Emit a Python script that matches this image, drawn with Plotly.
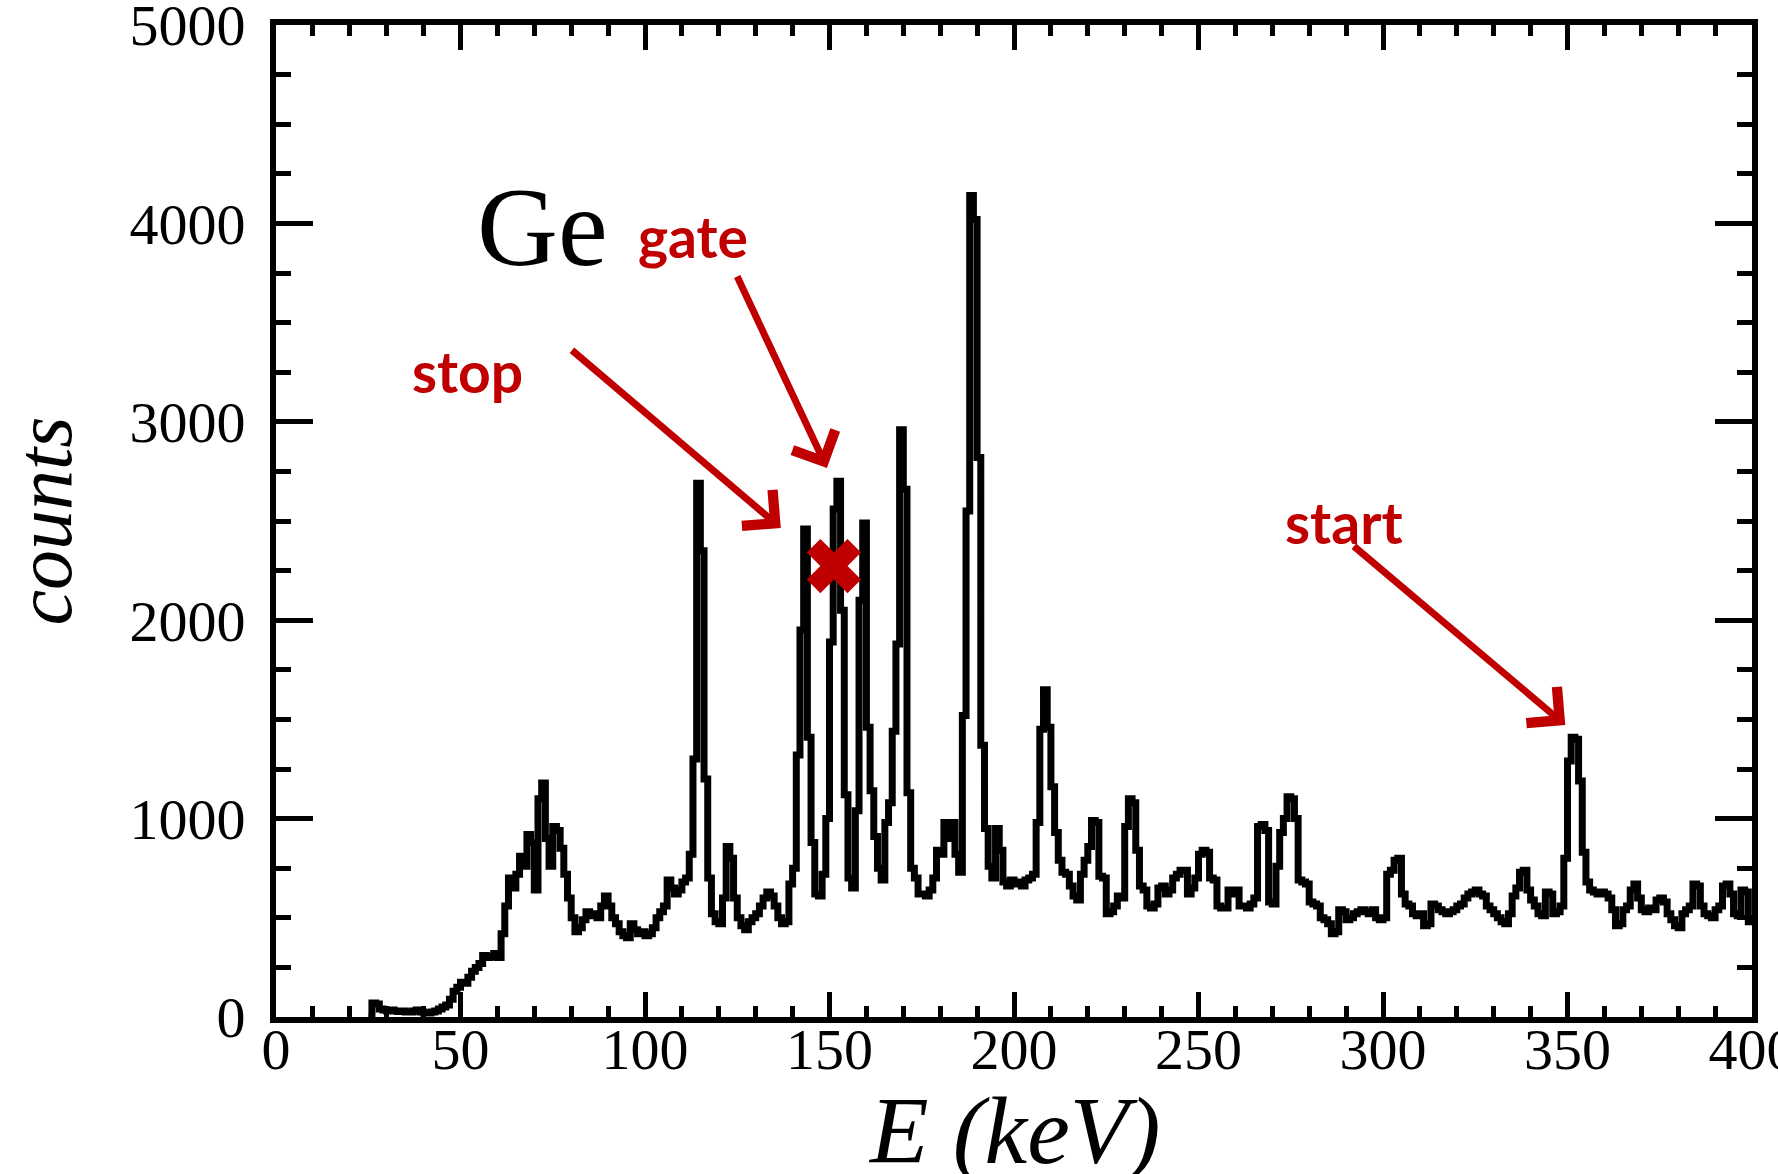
import plotly.graph_objects as go

# ---- data (bin left edges in keV, counts per 1 keV bin) ----
energy_keV = list(range(25, 401))
counts = [
    0, 70, 65, 40, 35, 30, 35, 30, 28, 30,            # 25-34
    25, 25, 30, 35, 25, 20, 20, 25, 30, 40,           # 35-44
    50, 60, 90, 130, 150, 175, 170, 200, 230, 250,    # 45-54
    270, 310, 300, 305, 320, 300, 420, 560, 700, 650, # 55-64
    720, 810, 760, 920, 880, 640, 1100, 1180, 900, 760,  # 65-74
    960, 940, 850, 720, 600, 500, 430, 450, 490, 530, # 75-84
    510, 520, 500, 560, 610, 560, 500, 470, 430, 410, # 85-94
    400, 470, 440, 420, 430, 410, 420, 450, 500, 530, # 95-104
    560, 690, 650, 620, 640, 680, 700, 820, 1300, 2690,  # 105-114
    2350, 1200, 700, 520, 480, 470, 600, 860, 800, 600,  # 115-124
    500, 460, 440, 480, 500, 520, 560, 600, 630, 610, # 125-134
    560, 500, 470, 480, 670, 750, 1320, 1950, 2460, 1410,  # 135-144
    880, 620, 610, 720, 1000, 1890, 2560, 2700, 2050, 1120,  # 145-154
    700, 650, 1040, 2100, 2490, 1460, 1140, 910, 750, 690,  # 155-164
    980, 1080, 1440, 1880, 2960, 2660, 1130, 750, 700, 620,  # 165-174
    620, 610, 640, 700, 840, 820, 980, 900, 980, 820, # 175-184
    730, 1520, 2550, 4140, 4020, 2820, 1370, 950, 760, 700,  # 185-194
    950, 840, 680, 660, 690, 670, 680, 660, 690, 700, # 195-204
    720, 980, 1450, 1650, 1460, 1160, 930, 790, 730, 720,  # 205-214
    660, 610, 590, 720, 790, 860, 990, 980, 710, 700, # 215-224
    520, 530, 560, 610, 600, 960, 1100, 1080, 840, 660,  # 225-234
    640, 560, 550, 570, 650, 660, 620, 640, 700, 720, # 235-244
    740, 740, 620, 650, 700, 820, 840, 830, 700, 690, # 245-254
    560, 550, 550, 640, 620, 640, 560, 560, 550, 570, # 255-264
    600, 960, 970, 940, 580, 570, 760, 930, 1000, 1110,  # 265-274
    1100, 1000, 690, 680, 670, 580, 570, 560, 500, 490,  # 275-284
    470, 420, 430, 540, 530, 490, 500, 520, 530, 540, # 285-294
    530, 520, 540, 500, 490, 500, 720, 740, 790, 800, # 295-304
    620, 570, 560, 520, 510, 520, 460, 470, 570, 560, # 305-314
    540, 530, 520, 530, 540, 560, 570, 600, 620, 630, # 315-324
    640, 620, 610, 560, 540, 520, 500, 480, 470, 520, # 325-334
    610, 650, 730, 740, 640, 590, 560, 520, 510, 630, # 335-344
    620, 520, 530, 560, 800, 1290, 1410, 1400, 1190, 830,  # 345-354
    680, 640, 630, 620, 630, 620, 600, 540, 460, 470, # 355-364
    540, 560, 640, 670, 600, 540, 530, 550, 540, 590, # 365-374
    600, 580, 520, 490, 460, 450, 520, 540, 560, 670, # 375-384
    660, 560, 520, 510, 500, 540, 560, 660, 670, 620, # 385-394
    520, 510, 640, 630, 480, 480,                     # 395-400
]
assert len(counts) == len(energy_keV)

x_ticks = [0, 50, 100, 150, 200, 250, 300, 350, 400]
y_ticks = [0, 1000, 2000, 3000, 4000, 5000]
x_title = "E (keV)"
y_title = "counts"

gate_marker = (151.2, 2273)
# (label, text_x, text_y, tail_x, tail_y, head_x, head_y)
arrows = [
    ("stop", 51.9, 3256, 79.8, 3367, 136.8, 2465),
    ("gate", 112.9, 3937, 124.8, 3740, 149.3, 2767),
    ("start", 289.3, 2495, 291.7, 2379, 349.4, 1472),
]
ge_label = ("Ge", 72.2, 3982)

RED = "#C00000"
SERIF = "Liberation Serif"

fig = go.Figure()
fig.add_trace(go.Scatter(
    x=energy_keV, y=counts, mode="lines",
    line=dict(color="black", width=7, shape="hv"),
    showlegend=False, hoverinfo="skip"))
fig.add_trace(go.Scatter(
    x=[gate_marker[0]], y=[gate_marker[1]], mode="markers",
    marker=dict(symbol="x", size=48, color=RED, line=dict(width=0)),
    showlegend=False, hoverinfo="skip"))
# invisible trace on mirror axes so they are drawn
fig.add_trace(go.Scatter(x=[None], y=[None], xaxis="x2", yaxis="y2",
                         showlegend=False, hoverinfo="skip"))

tickfont = dict(family=SERIF, size=58, color="black")
common = dict(showgrid=False, zeroline=False, showline=True, linecolor="black",
              linewidth=6, ticks="inside", tickcolor="black", tickwidth=5,
              automargin=False)

fig.update_layout(
    width=1778, height=1174,
    margin=dict(l=276, r=26, t=25, b=157),
    paper_bgcolor="white", plot_bgcolor="white",
    xaxis=dict(range=[0, 400], tickvals=x_ticks, ticklen=25,
               minor=dict(dtick=10, ticks="inside", ticklen=11, tickwidth=5, tickcolor="black"),
               tickfont=tickfont, ticklabelstandoff=-24, ticklabeloverflow="allow",
               **common),
    yaxis=dict(range=[0, 5000], tickvals=y_ticks, ticklen=37,
               minor=dict(dtick=250, ticks="inside", ticklen=15, tickwidth=5, tickcolor="black"),
               tickfont=tickfont, ticklabelstandoff=13, ticklabeloverflow="allow",
               title=dict(text=y_title, standoff=38,
                          font=dict(family=SERIF, size=80, style="italic", color="black")),
               **common),
    xaxis2=dict(range=[0, 400], overlaying="x", side="top", tickvals=x_ticks, ticklen=25,
                minor=dict(dtick=10, ticks="inside", ticklen=11, tickwidth=5, tickcolor="black"),
                showticklabels=False, **common),
    yaxis2=dict(range=[0, 5000], overlaying="y", side="right", tickvals=y_ticks, ticklen=37,
                minor=dict(dtick=250, ticks="inside", ticklen=15, tickwidth=5, tickcolor="black"),
                showticklabels=False, **common),
)

# x-axis title (placed as annotation so it can sit partly below the page edge, as in the original)
fig.add_annotation(x=0.5, y=0, xref="paper", yref="paper", text=x_title,
                   showarrow=False, xanchor="center", yanchor="top", yshift=-58,
                   font=dict(family=SERIF, size=96, style="italic", color="black"))

fig.add_annotation(x=ge_label[1], y=ge_label[2], xref="x", yref="y", text=ge_label[0],
                   showarrow=False, font=dict(family=SERIF, size=112, color="black"),
                   xanchor="center", yanchor="middle")

for label, tx, ty, ax_, ay_, hx, hy in arrows:
    fig.add_annotation(x=hx, y=hy, ax=ax_, ay=ay_, xref="x", yref="y", axref="x", ayref="y",
                       text="", showarrow=True, arrowhead=4, arrowsize=1.3, arrowwidth=7,
                       arrowcolor=RED, standoff=0, startstandoff=0)
    fig.add_annotation(x=tx, y=ty, xref="x", yref="y", text="<b>%s</b>" % label,
                       showarrow=False, font=dict(family="Lato", size=57, color=RED),
                       xanchor="center", yanchor="middle")

fig.write_html("out.html")
